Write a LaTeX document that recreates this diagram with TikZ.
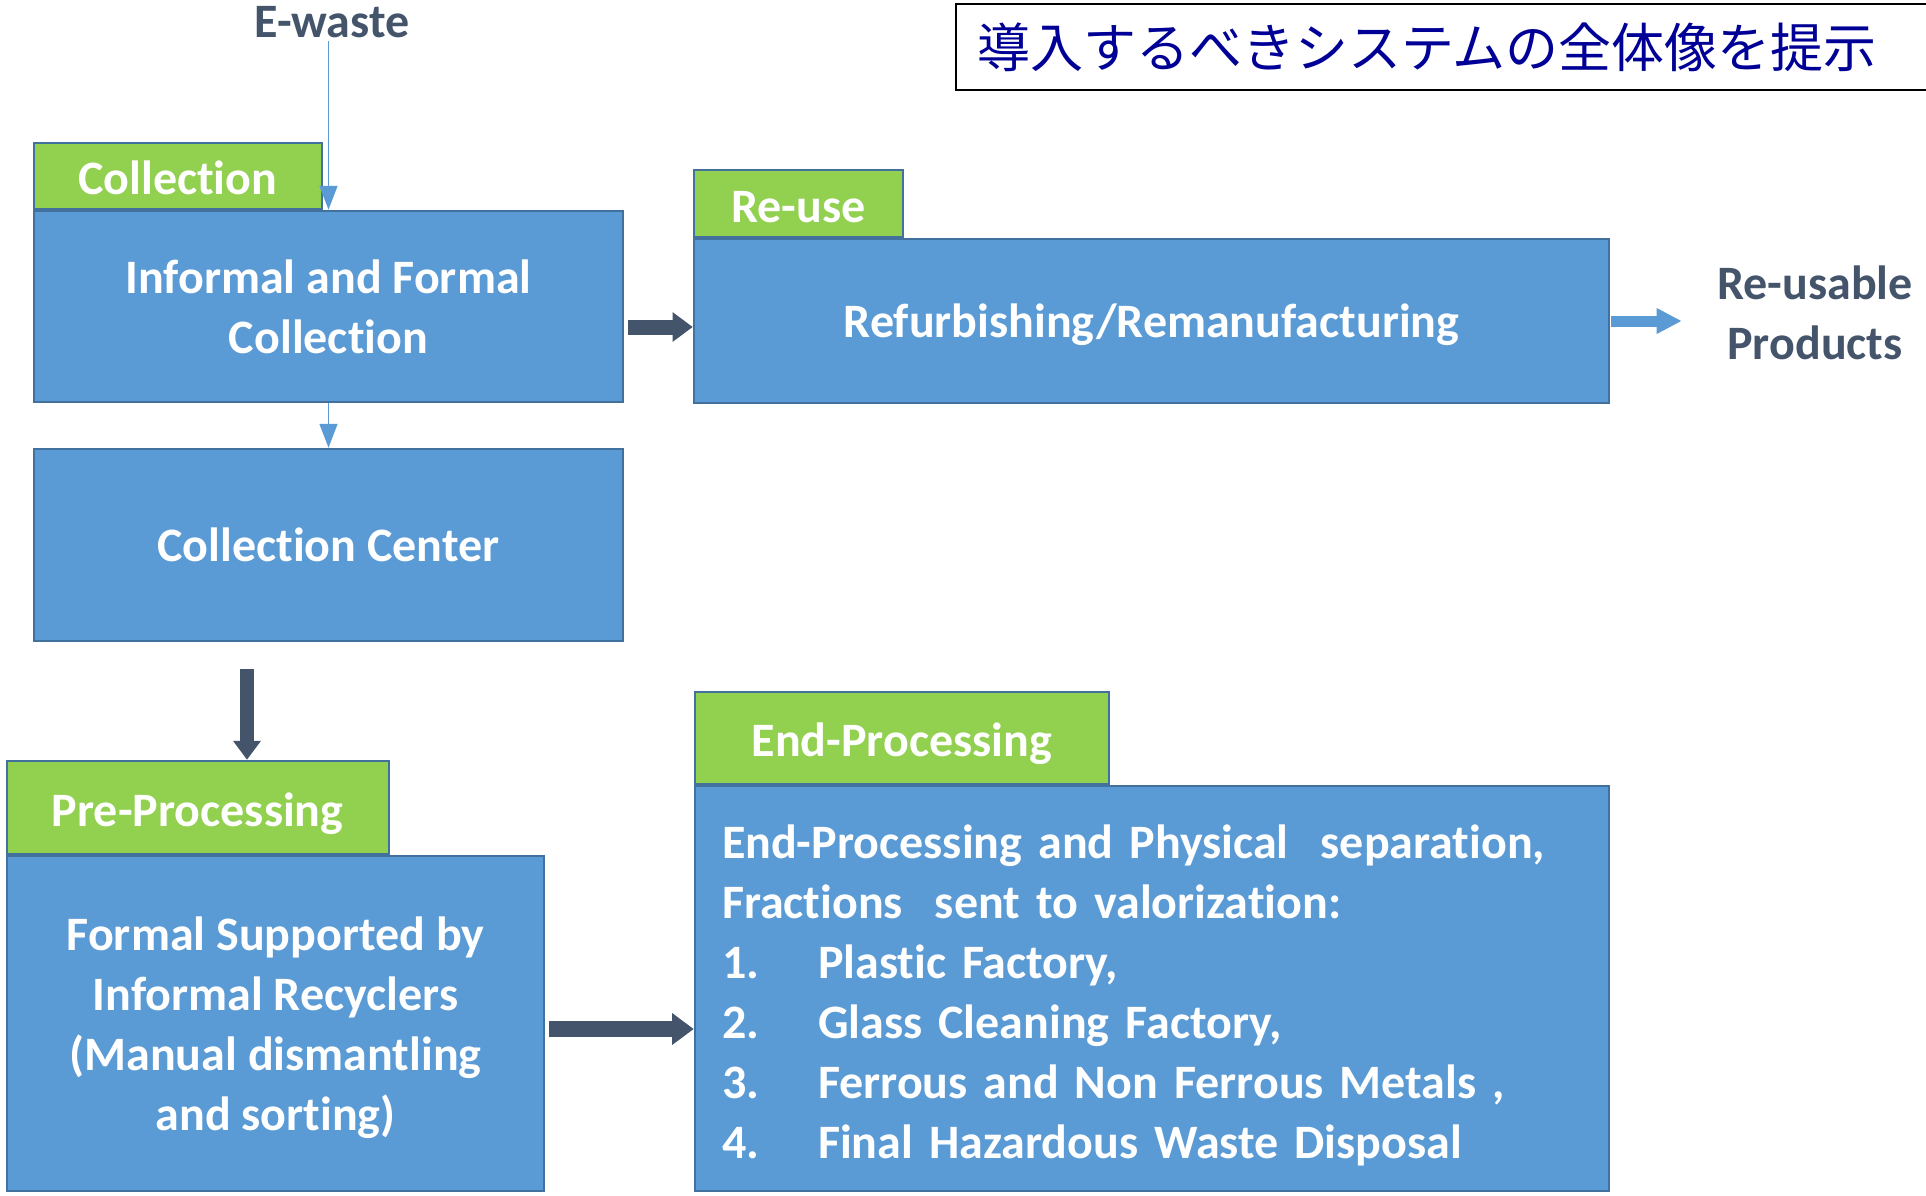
\documentclass[tikz,border=0pt]{standalone}
\usepackage{fontspec}
\setmainfont{Carlito}[Ligatures=NoCommon]
\newfontfamily\jpfont{Noto Sans CJK JP}
\usetikzlibrary{arrows.meta,positioning}
\definecolor{boxblue}{HTML}{5B9BD5}
\definecolor{boxedge}{HTML}{41719C}
\definecolor{tabgreen}{HTML}{92D050}
\definecolor{slate}{HTML}{44546A}
\definecolor{titleblue}{RGB}{0,0,150}

\begin{document}
\begin{tikzpicture}[x=1pt, y=-1pt,
    procbox/.style={draw=boxedge, fill=boxblue, line width=2.5pt, text=white, font=\fontsize{48}{60}\selectfont\bfseries, align=center, inner sep=0pt},
    tabbox/.style={draw=boxedge, fill=tabgreen, line width=2pt, text=white, font=\fontsize{48}{60}\selectfont\bfseries, inner sep=0pt, text height=38pt, text depth=0pt, anchor=south west},
    plain/.style={text=slate, font=\fontsize{48}{60}\selectfont\bfseries, align=center},
    thinarrow/.style={draw=boxblue, line width=1.6pt, -{Triangle[width=18pt,length=24pt]}},
    bigarrow/.style={draw=slate, line width=#1, -{Triangle[width=0pt 1.9, length=0pt 1.35]}},
    bigarrow/.default=15pt]
    \useasboundingbox (0,0) rectangle (1926,1195);
    \node[procbox, minimum width=589pt, minimum height=191pt] (infobox) at (328.5,306.5) {Informal and Formal\\Collection};
    \node[tabbox, minimum width=288pt, minimum height=66pt] (coltab) at (infobox.north west) {Collection};
    \node[procbox, minimum width=589pt, minimum height=192pt] (ccbox) at (328.5,545) {Collection Center};
    \node[procbox, minimum width=537pt, minimum height=335pt, text depth=0pt] (formbox) at (275.5,1023.5) {Formal Supported by\\Informal Recyclers\\(Manual dismantling\\and sorting)};
    \node[tabbox, minimum width=382pt, minimum height=93pt] (pretab) at (formbox.north west) {Pre-Processing};
    \node[procbox, minimum width=915pt, minimum height=164pt, text depth=0pt] (reusebox) at (1151.5,321) {Refurbishing/Remanufacturing};
    \node[tabbox, minimum width=209pt, minimum height=67pt] (reusetab) at (reusebox.north west) {Re-use};
    \node[procbox, minimum width=914pt, minimum height=405pt, align=left, text width=860pt] (endbox) at (1152,988.5) {\rule{0pt}{48pt}End-Processing and Physical~ separation,\\
        Fractions~ sent to valorization:\\
        \makebox[96pt][l]{1.}Plastic Factory,\\
        \makebox[96pt][l]{2.}Glass Cleaning Factory,\\
        \makebox[96pt][l]{3.}Ferrous and Non Ferrous Metals ,\\
        \makebox[96pt][l]{4.}Final Hazardous Waste Disposal};
    \node[tabbox, minimum width=414pt, minimum height=92pt] (endtab) at (endbox.north west) {End-Processing};
    \node[plain] (ewaste) at (332,22) {E-waste};
    \node[plain] (products) at (1815,313) {Re-usable\\Products};
    \node[draw=black, line width=2pt, anchor=north west, minimum height=86pt, text width=940pt, align=left, inner xsep=21pt, text=titleblue, font=\jpfont\fontsize{53}{60}\selectfont] (title) at (955,3) {導入するべきシステムの全体像を提示};
    \draw[thinarrow] (ewaste.south -| infobox.north) -- (infobox.north);
    \draw[thinarrow] (infobox.south) -- (ccbox.north);
    \coordinate (ccout) at (247,669);
    \coordinate (reusein) at (628,327);
    \coordinate (endin) at (549,1029);
    \draw[bigarrow=14pt] (ccout) -- (ccout |- pretab.north);
    \draw[bigarrow] (reusein) -- (reusein -| reusebox.west);
    \draw[bigarrow=16pt] (endin) -- (endin -| endbox.west);
    \draw[draw=boxblue, line width=11pt, -{Triangle[width=24pt,length=25pt]}] ([xshift=1pt]reusebox.east) -- ([xshift=-32pt]products.west |- reusebox.east);
\end{tikzpicture}
\end{document}
